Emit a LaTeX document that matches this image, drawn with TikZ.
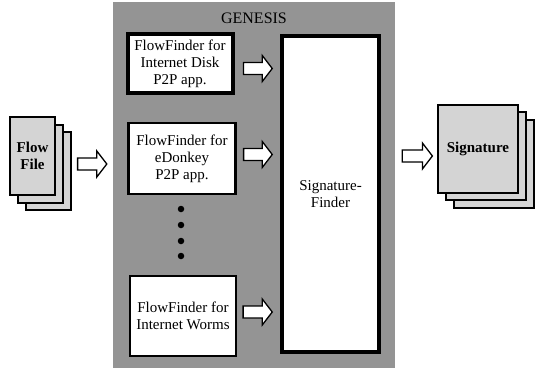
\documentclass[tikz,border=0pt]{standalone}
\usepackage{fontspec}
\setmainfont{Liberation Serif}
\usepackage{tikz}
\usetikzlibrary{calc}
\pgfdeclarelayer{background}
\pgfdeclarelayer{nodelayer}
\pgfdeclarelayer{edgelayer}
\pgfsetlayers{background,edgelayer,nodelayer,main}
\definecolor{panelgray}{gray}{0.58}
\definecolor{sheetgray}{gray}{0.83}
\tikzset{every picture/.append style={x=1pt, y=-1pt}}
\tikzstyle{none}=[inner sep=0pt, font=\fontsize{16}{18}\selectfont]
\tikzstyle{panel}=[fill=panelgray, minimum width=282, minimum height=366, inner sep=0pt]
\tikzset{finder/.style={draw=black, fill=white, line width=2.2pt, align=center,
inner sep=0pt, font=\fontsize{15}{17}\selectfont}}
\tikzset{sheet/.style={draw=black, fill=sheetgray, line width=1.2pt, align=center,
inner sep=0pt, font=\bfseries\fontsize{15}{17}\selectfont}}
\tikzstyle{dot}=[circle, fill=black, minimum size=6.5pt, inner sep=0pt]
% hollow block arrow, drawn at the height of its start point
\tikzset{blockarrow/.style={draw=black, fill=white, line width=1.3pt, to path={
let \p1=(\tikztostart), \p2=(\tikztotarget) in
(\x1,\y1+6pt) -- (\x2-10pt,\y1+6pt) -- (\x2-10pt,\y1+13pt) -- (\x2,\y1)
-- (\x2-10pt,\y1-13pt) -- (\x2-10pt,\y1-6pt) -- (\x1,\y1-6pt) -- cycle}}}

\begin{document}
\begin{tikzpicture}
	\useasboundingbox (0,0) rectangle (538,370);
	\begin{pgfonlayer}{background}
		\node [style=panel] (0) at (254, 185) {};
	\end{pgfonlayer}
	\begin{pgfonlayer}{nodelayer}
		\node [style=none] (1) at (254, 18) {GENESIS};
		\node [style=finder, line width=4pt, minimum width=105, minimum height=59] (2) at (180, 63.5) {FlowFinder for\\Internet Disk\\P2P app.};
		\node [style=finder, minimum width=107, minimum height=71] (3) at (182, 158.5) {FlowFinder for\\eDonkey\\P2P app.};
		\node [style=finder, minimum width=106, minimum height=80] (4) at (183, 316) {FlowFinder for\\Internet Worms};
		\node [style=finder, line width=3.5pt, minimum width=97, minimum height=316] (5) at (330.5, 194) {Signature-\\Finder};
		\node [style=dot] (6) at (181, 209) {};
		\node [style=dot] (7) at (181, 225) {};
		\node [style=dot] (8) at (181, 241) {};
		\node [style=dot] (9) at (181, 256) {};
		\node [style=sheet, minimum width=45, minimum height=78] (10) at (48.5, 171) {};
		\node [style=sheet, minimum width=45, minimum height=78] (11) at (40.5, 164) {};
		\node [style=sheet, minimum width=45, minimum height=78] (12) at (32.5, 156) {Flow\\File};
		\node [style=sheet, minimum width=80, minimum height=88] (15) at (494, 164) {};
		\node [style=sheet, minimum width=80, minimum height=88] (14) at (486, 156) {};
		\node [style=sheet, minimum width=80, minimum height=88] (13) at (478, 149) {Signature};
	\end{pgfonlayer}
	\begin{pgfonlayer}{edgelayer}
		\draw [style=blockarrow] ([xshift=14]11.east) to ([xshift=-6]0.west);
		\draw [style=blockarrow] ([xshift=9, yshift=-5]2.east) to ([xshift=-8]5.west);
		\draw [style=blockarrow] ([xshift=7, yshift=4]3.east) to ([xshift=-8]5.west);
		\draw [style=blockarrow] ([xshift=6, yshift=4]4.east) to ([xshift=-8]5.west);
		\draw [style=blockarrow] ($(0.east |- 14.west)+(7,0)$) to ([xshift=-5]13.west);
	\end{pgfonlayer}
\end{tikzpicture}
\end{document}
